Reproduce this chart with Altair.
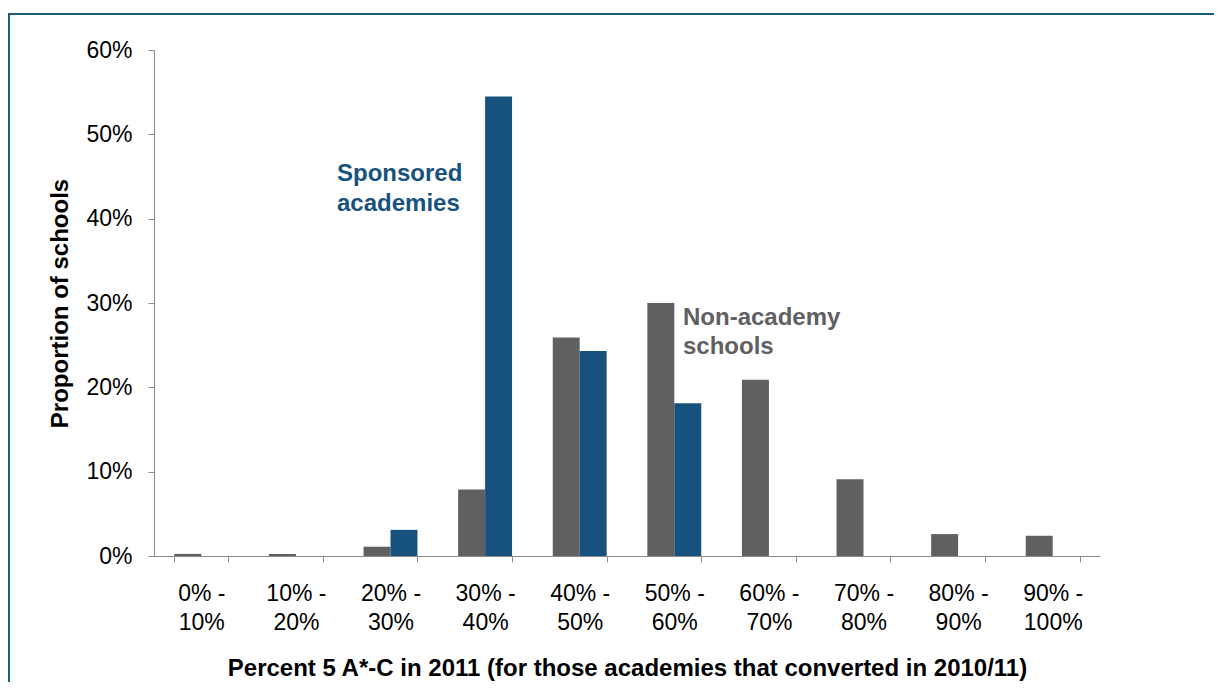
import altair as alt
import pandas as pd

categories = ["0% - 10%", "10% - 20%", "20% - 30%", "30% - 40%", "40% - 50%",
              "50% - 60%", "60% - 70%", "70% - 80%", "80% - 90%", "90% - 100%"]
series = ["Non-academy schools", "Sponsored academies"]
non_academy = [0.0025, 0.0025, 0.011, 0.079, 0.259, 0.300, 0.209, 0.091, 0.026, 0.024]
sponsored = [0.0, 0.0, 0.031, 0.545, 0.243, 0.181, 0.0, 0.0, 0.0, 0.0]
y_ticks = [0, 0.1, 0.2, 0.3, 0.4, 0.5, 0.6]

GRAY = "#5f6062"
BLUE = "#17527e"
FRAME = "#1b5e7b"
FONT = "Liberation Sans"

rows = []
for c, v in zip(categories, non_academy):
    rows.append({"category": c, "series": series[0], "value": v})
for c, v in zip(categories, sponsored):
    rows.append({"category": c, "series": series[1], "value": v})
df = pd.DataFrame(rows)
one = pd.DataFrame({"k": [0]})

W, H = 946, 506

bars = alt.Chart(df).transform_filter("datum.value > 0").mark_bar().encode(
    x=alt.X("category:N", sort=categories,
            scale=alt.Scale(paddingInner=0.43, paddingOuter=0.215),
            axis=alt.Axis(
                title="Percent 5 A*-C in 2011 (for those academies that converted in 2010/11)",
                labelAngle=0, tickBand="extent",
                labelExpr="indexof(datum.label, ' - ') >= 0 ? [split(datum.label, ' - ')[0] + ' -', split(datum.label, ' - ')[1]] : ''",
                labelFont=FONT, labelFontSize=23, labelColor="black",
                labelLineHeight=29, labelPadding=20, labelBaseline="top",
                tickSize=6, tickColor="#8c8c8c", domainColor="#8c8c8c",
                titleFont=FONT, titleFontSize=24, titleFontWeight="bold",
                titleColor="black", titleBaseline="alphabetic", titleY=119)),
    xOffset=alt.XOffset("series:N", sort=series),
    y=alt.Y("value:Q", scale=alt.Scale(domain=[0, 0.6], nice=False),
            axis=alt.Axis(
                title="Proportion of schools", format=".0%", values=y_ticks,
                grid=False, labelFont=FONT, labelFontSize=23, labelColor="black",
                labelPadding=16, tickSize=6, tickColor="#8c8c8c",
                domainColor="#8c8c8c",
                titleFont=FONT, titleFontSize=24, titleFontWeight="bold",
                titleColor="black", titleBaseline="alphabetic", titleX=-87)),
    color=alt.Color("series:N", sort=series,
                    scale=alt.Scale(domain=series, range=[GRAY, BLUE]),
                    legend=None),
)

label_sponsored = alt.Chart(one).mark_text(
    text="Sponsored\nacademies", lineBreak="\n", align="left",
    baseline="alphabetic", font=FONT, fontSize=24, fontWeight="bold",
    color=BLUE, lineHeight=30,
).encode(x=alt.value(183), y=alt.value(131))

label_non = alt.Chart(one).mark_text(
    text="Non-academy\nschools", lineBreak="\n", align="left",
    baseline="alphabetic", font=FONT, fontSize=24, fontWeight="bold",
    color=GRAY, lineHeight=29,
).encode(x=alt.value(529), y=alt.value(275))

frame_top = alt.Chart(one).mark_rule(color=FRAME, strokeWidth=2).encode(
    x=alt.value(-145), x2=alt.value(W + 200), y=alt.value(-36))
frame_left = alt.Chart(one).mark_rule(color=FRAME, strokeWidth=2).encode(
    x=alt.value(-145), y=alt.value(-37), y2=alt.value(H + 200))

chart = alt.layer(bars, label_sponsored, label_non, frame_top, frame_left).properties(
    width=W, height=H,
    background="white",
    autosize=alt.AutoSizeParams(type="none"),
    padding={"left": 146, "top": 42, "right": 114, "bottom": 126},
).configure_view(stroke=None)

chart.save("out.html", embed_options={"renderer": "svg", "actions": False})
